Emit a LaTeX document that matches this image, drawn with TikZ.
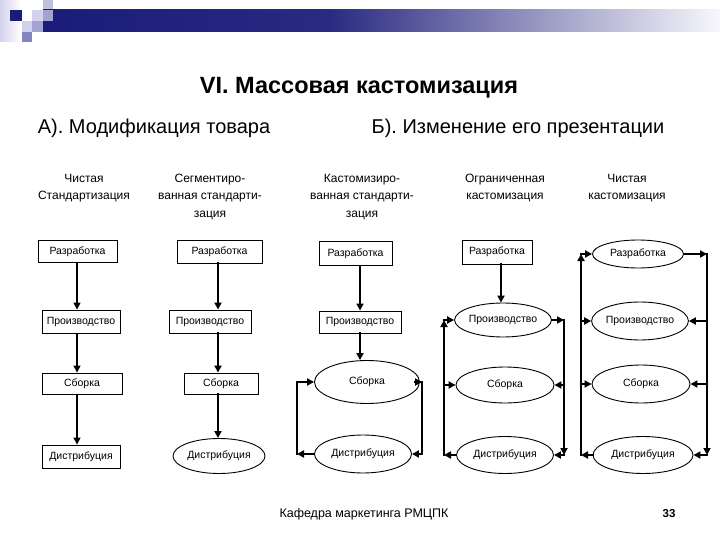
\documentclass[tikz,border=0pt]{standalone}
\usepackage{fontspec}
\setmainfont{Liberation Sans}
\usetikzlibrary{arrows.meta,shapes.geometric}
\definecolor{navy}{HTML}{1B1B7A}
\definecolor{navymid}{HTML}{2A2A82}
\definecolor{barend}{HTML}{F7F7FB}
\definecolor{lav1}{HTML}{D2D2EC}
\definecolor{lav2}{HTML}{A4A4D4}
\definecolor{lav3}{HTML}{8585C2}
\newcommand{\hstrut}{\rule{0pt}{12pt}}
\begin{document}
\begin{tikzpicture}[x=1pt,y=-1pt,
  lbl/.style={font=\fontsize{10.5}{12}\selectfont},
  boxn/.style={draw, line width=0.9pt, inner sep=0pt, lbl},
  oval/.style={draw, ellipse, line width=0.9pt, inner sep=0pt, lbl},
  hdr/.style={align=center, anchor=north, inner sep=0pt, font=\fontsize{12}{17.5}\selectfont},
  conA/.style={line width=1.4pt, -{Triangle[length=7pt,width=7pt]}},
  conB/.style={line width=2.2pt, line cap=rect, -{Triangle[length=7pt,width=7pt]}}
]
\useasboundingbox (0,0) rectangle (720,540);

% decoration
\shade[left color=lav1, right color=white] (0,0) rectangle (21,42);
\fill[navy] (10,10) rectangle (22,21);
\fill[lav1] (32,10) rectangle (43,21);
\fill[lav1!90!navy] (43,0) rectangle (53,10);
\shade[left color=navy, right color=navymid] (43,10) rectangle (330,32);
\shade[left color=navymid, right color=barend] (330,10) rectangle (720,32);
\fill[lav2] (43,10) rectangle (53,21);
\fill[lav1] (22,21) rectangle (32,32);
\fill[lav2] (32,21) rectangle (43,32);
\fill[lav3] (22,32) rectangle (32,42);

% titles
\node[font=\bfseries\fontsize{23.5}{26}\selectfont] (title) at (359,88) {VI. Массовая кастомизация};
\node[font=\fontsize{20}{23}\selectfont] (subA) at (154,128) {А). Модификация товара};
\node[font=\fontsize{20}{23}\selectfont] (subB) at (518,128) {Б). Изменение его презентации};

% headers
\node[hdr] (h1) at (84,170) {\hstrut Чистая\\Стандартизация};
\node[hdr] (h2) at (210,170) {\hstrut Сегментиро-\\ванная стандарти-\\зация};
\node[hdr] (h3) at (362,170) {\hstrut Кастомизиро-\\ванная стандарти-\\зация};
\node[hdr] (h4) at (505,170) {\hstrut Ограниченная\\кастомизация};
\node[hdr] (h5) at (627,170) {\hstrut Чистая\\кастомизация};

% helper coordinates
\coordinate (X1) at (77,0);
\coordinate (X2) at (218,0);
\coordinate (X3) at (360,0);
\coordinate (X4) at (501,0);
\coordinate (L3) at (297,0); \coordinate (R3) at (422,0);
\coordinate (L4) at (444,0); \coordinate (R4) at (564,0);
\coordinate (L5) at (581,0); \coordinate (R5) at (707,0);

% column 1
\node[boxn, minimum width=79pt, minimum height=22pt] (c1a) at (77.5,251.5) {Разработка};
\node[boxn, minimum width=78pt, minimum height=23pt] (c1b) at (81,321.5) {Производство};
\node[boxn, minimum width=80pt, minimum height=21pt] (c1c) at (82,383.5) {Сборка};
\node[boxn, minimum width=78pt, minimum height=23pt] (c1d) at (81,456.5) {Дистрибуция};
\draw[conA] (c1a.south -| X1) -- (c1b.north -| X1);
\draw[conA] (c1b.south -| X1) -- (c1c.north -| X1);
\draw[conA] (c1c.south -| X1) -- (c1d.north -| X1);

% column 2
\node[boxn, minimum width=85pt, minimum height=23pt] (c2a) at (219.5,251.5) {Разработка};
\node[boxn, minimum width=82pt, minimum height=23pt] (c2b) at (210,321.5) {Производство};
\node[boxn, minimum width=74pt, minimum height=21pt] (c2c) at (221,383.5) {Сборка};
\node[oval, minimum width=92pt, minimum height=35pt] (c2d) at (219,456) {Дистрибуция};
\draw[conB] (c2a.south -| X2) -- (c2b.north -| X2);
\draw[conB] (c2b.south -| X2) -- (c2c.north -| X2);
\draw[conB] (c2c.south -| X2) -- (c2d.north -| X2);

% column 3
\node[boxn, minimum width=73pt, minimum height=24pt] (c3a) at (355.5,253.5) {Разработка};
\node[boxn, minimum width=82pt, minimum height=22pt] (c3b) at (360,322) {Производство};
\node[oval, minimum width=105pt, minimum height=43pt] (c3c) at (367,382) {Сборка};
\node[oval, minimum width=97pt, minimum height=38pt] (c3d) at (363,454) {Дистрибуция};
\draw[conB] (c3a.south -| X3) -- (c3b.north -| X3);
\draw[conB] (c3b.south -| X3) -- (c3c.north -| X3);
\draw[conB] (c3d.west) -- (c3d.west -| L3);
\draw[conB] (c3d.west -| L3) -- (c3c.west -| L3) -- (c3c.west);
\draw[conB] (c3c.east) -- (c3c.east -| R3);
\draw[conB] (c3c.east -| R3) -- (c3d.east -| R3) -- (c3d.east);

% column 4
\node[boxn, minimum width=70pt, minimum height=24pt] (c4a) at (497,252) {Разработка};
\node[oval, minimum width=95pt, minimum height=34pt] (c4b) at (503,320) {Производство};
\node[oval, minimum width=98pt, minimum height=36pt] (c4c) at (505,385) {Сборка};
\node[oval, minimum width=97pt, minimum height=37pt] (c4d) at (505,455) {Дистрибуция};
\draw[conB] (c4a.south -| X4) -- (c4b.north -| X4);
\draw[conB] (c4d.west) -- (c4d.west -| L4);
\draw[conB] (c4d.west -| L4) -- (c4b.west -| L4);
\draw[conB] (c4b.west -| L4) -- (c4b.west);
\draw[conB] (c4c.west -| L4) -- (c4c.west);
\draw[conB] (c4b.east) -- (c4b.east -| R4);
\draw[conB] (c4b.east -| R4) -- (c4d.east -| R4);
\draw[conB] (c4d.east -| R4) -- (c4d.east);
\draw[conB] (c4c.east -| R4) -- (c4c.east);

% column 5
\node[oval, minimum width=91pt, minimum height=28pt] (c5a) at (638,254) {Разработка};
\node[oval, minimum width=95pt, minimum height=38pt] (c5b) at (640,321) {Производство};
\node[oval, minimum width=98pt, minimum height=38pt] (c5c) at (641,384) {Сборка};
\node[oval, minimum width=100pt, minimum height=37pt] (c5d) at (643,455) {Дистрибуция};
\draw[conB] (c5d.west) -- (c5d.west -| L5);
\draw[conB] (c5d.west -| L5) -- (c5a.west -| L5);
\draw[conB] (c5a.west -| L5) -- (c5a.west);
\draw[conB] (c5b.west -| L5) -- (c5b.west);
\draw[conB] (c5c.west -| L5) -- (c5c.west);
\draw[conB] (c5a.east) -- (c5a.east -| R5);
\draw[conB] (c5a.east -| R5) -- (c5d.east -| R5);
\draw[conB] (c5d.east -| R5) -- (c5d.east);
\draw[conB] (c5b.east -| R5) -- (c5b.east);
\draw[conB] (c5c.east -| R5) -- (c5c.east);

% footer
\node[font=\fontsize{12.5}{14}\selectfont] (foot) at (364,514) {Кафедра маркетинга РМЦПК};
\node[font=\bfseries\fontsize{11.5}{13}\selectfont] (page) at (669,514) {33};
\end{tikzpicture}
\end{document}
